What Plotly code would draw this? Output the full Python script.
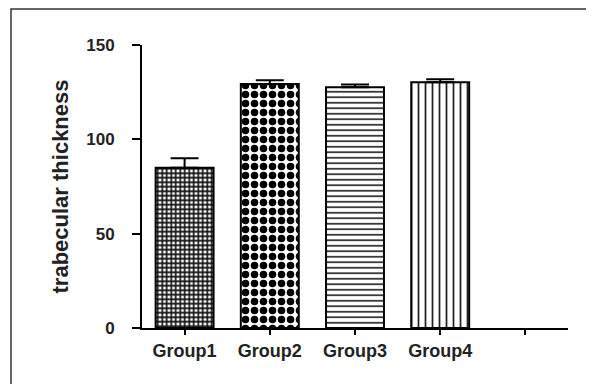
import plotly.graph_objects as go

categories = ["Group1", "Group2", "Group3", "Group4"]
extra_tick = [""]
means = [85, 129.3, 127.6, 130.2]
errors = [5, 2, 1.5, 1.6]
y_ticks = [0, 50, 100, 150]
y_title = "trabecular thickness"

patterns = [
    dict(shape="+", size=4.5, solidity=0.6, fgcolor="#111", bgcolor="white", fgopacity=1),
    dict(shape=".", size=9, solidity=0.55, fgcolor="black", bgcolor="white", fgopacity=1),
    dict(shape="-", size=5.5, solidity=0.3, fgcolor="#222", bgcolor="white", fgopacity=1),
    dict(shape="|", size=7, solidity=0.25, fgcolor="#222", bgcolor="white", fgopacity=1),
]

FONT = "Arial, 'Liberation Sans', Helvetica, sans-serif"

fig = go.Figure()
xs = list(range(len(categories)))
for i, (c, m, e) in enumerate(zip(categories, means, errors)):
    fig.add_trace(go.Bar(
        x=[xs[i]], y=[m], width=0.68, name=c,
        marker=dict(color="white", pattern=patterns[i],
                    line=dict(color="black", width=2)),
        error_y=dict(type="data", symmetric=False, array=[e], arrayminus=[0],
                     color="black", thickness=2, width=14),
        showlegend=False,
    ))

all_ticks = categories + extra_tick
fig.update_layout(
    width=586, height=376,
    margin=dict(l=134, r=26, t=37, b=56),
    paper_bgcolor="white", plot_bgcolor="white",
    font=dict(family=FONT, color="black"),
    xaxis=dict(
        range=[-0.5, len(all_ticks) - 0.5],
        tickvals=list(range(len(all_ticks))), ticktext=all_ticks,
        showline=True, linecolor="black", linewidth=2,
        ticks="outside", ticklen=5, tickwidth=2, tickcolor="black",
        showgrid=False, zeroline=False,
        tickfont=dict(size=18, weight="bold", color="#222"),
    ),
    yaxis=dict(
        range=[0, 150], tickvals=y_ticks,
        showline=True, linecolor="black", linewidth=2,
        ticks="outside", ticklen=8, tickwidth=2, tickcolor="black",
        showgrid=False, zeroline=False,
        tickfont=dict(size=17, weight="bold", color="#222"),
        ticklabelstandoff=14,
        title=dict(text=y_title, font=dict(size=22, weight="bold", color="#222"),
                   standoff=12),
    ),
    shapes=[dict(type="rect", xref="paper", yref="paper",
                 x0=-0.3075, x1=1.0446, y0=-0.35, y1=1.127,
                 line=dict(color="#333", width=1.5), fillcolor="rgba(0,0,0,0)",
                 layer="below")],
)

fig.write_html("out.html")
